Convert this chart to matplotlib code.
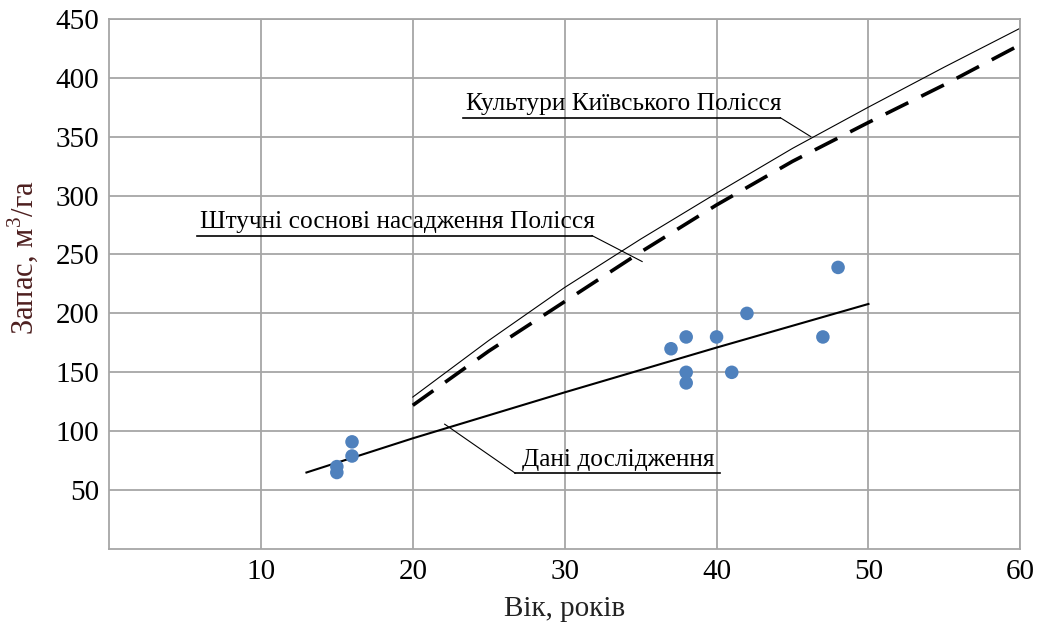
import numpy as np
import matplotlib.pyplot as plt

plt.rcParams['font.family'] = ['Liberation Serif', 'DejaVu Serif']
plt.rcParams['mathtext.fontset'] = 'custom'
plt.rcParams['mathtext.rm'] = 'Liberation Serif'

# вік (років) та запас (м3/га) - дані дослідження
age_obs = [15, 15, 16, 16, 37, 38, 38, 38, 40, 41, 42, 47, 48]
stock_obs = [65, 70, 79, 91, 170, 180, 150, 141, 180, 150, 200, 180, 239]

# лінія тренду по даних дослідження
age_trend = [13, 20, 30, 40, 50]
stock_trend = [65, 94, 133, 171, 208]

# культури Київського Полісся
age_kyiv = [20, 25, 30, 35, 40, 45, 50, 55, 60]
stock_kyiv = [129, 177, 222, 263, 302, 340, 375, 409, 442]

# штучні соснові насадження Полісся
age_polis = [20, 25, 30, 35, 40, 45, 50, 55, 60]
stock_polis = [122, 168, 210, 252, 292, 329, 362, 394, 428]

xticks = [10, 20, 30, 40, 50, 60]
yticks = [50, 100, 150, 200, 250, 300, 350, 400, 450]

fig = plt.figure(figsize=(10.38, 6.24), dpi=100)
ax = fig.add_axes([0.105, 0.12, 0.878, 0.85])

grid_c = '#a6a6a6'
ax.set_xlim(0, 60)
ax.set_ylim(0, 450)
ax.set_xticks(xticks)
ax.set_yticks(yticks)
ax.grid(True, color=grid_c, lw=1.3)
ax.set_axisbelow(True)
for s in ax.spines.values():
    s.set_color(grid_c)
    s.set_linewidth(1.3)
ax.tick_params(length=0, labelsize=21, pad=7)
ax.tick_params(axis='x', pad=7)

ax.plot(age_kyiv, stock_kyiv, color='black', lw=0.8)
ax.plot(age_polis, stock_polis, color='black', lw=2.6, dashes=(7, 4))
ax.plot(age_trend, stock_trend, color='black', lw=1.5)
ax.scatter(age_obs, stock_obs, s=95, color='#4f81bd', zorder=3, edgecolors='none')

# підписи ліній з підкресленням і виносками
def label(text, x0, x1, y, tip, tx):
    ax.text(tx, y + 2, text, fontsize=18.3, ha='left', va='bottom')
    ax.plot([x0, x1], [y, y], color='black', lw=1.2)
    ax.plot([tip[0], tip[2]], [tip[1], tip[3]], color='black', lw=0.8)

label('Культури Київського Полісся', 23.3, 44.2, 366, (44.2, 366, 46.2, 350), 23.5)
label('Штучні соснові насадження Полісся', 5.8, 31.8, 266, (31.8, 266, 35.1, 244), 6.0)
label('Дані дослідження', 26.75, 40.25, 64.4, (26.75, 64.4, 22.1, 106), 27.2)

ax.set_xlabel('Вік, років', fontsize=21, color='#222222', labelpad=8)
ax.set_ylabel('Запас, м$^3$/га', fontsize=22, color='#4d1f1f')
ax.yaxis.set_label_coords(-0.076, 0.55)

fig.savefig('out.png', dpi=100)
